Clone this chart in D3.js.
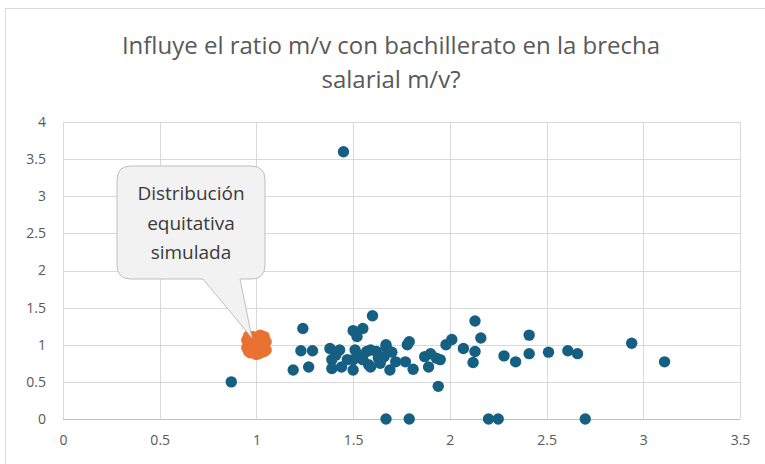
<!DOCTYPE html>
<html>
<head>
<meta charset="utf-8">
<script src="https://cdn.jsdelivr.net/npm/d3@7"></script>
<style>
  html, body { margin: 0; padding: 0; background: #ffffff; }
  svg { display: block; }
</style>
</head>
<body>
<svg id="chart" width="765" height="464"></svg>
<script>
// Observed ratios: x = ratio m/v con bachillerato, y = brecha salarial m/v
const observedX = [0.87,1.19,1.23,1.24,1.27,1.29,1.38,1.39,1.39,1.43,1.44,1.45,1.47,1.50,1.51,1.50,1.50,1.52,1.55,1.55,
  1.57,1.59,1.59,1.60,1.62,1.58,1.64,1.66,1.67,1.67,1.69,1.72,1.77,1.78,1.79,1.81,1.87,1.89,1.90,1.93,
  1.94,1.95,1.98,2.01,2.07,2.12,2.13,2.13,2.16,2.28,2.34,2.41,2.41,2.51,2.61,2.66,2.94,3.11,1.67,1.79,
  2.20,2.25,2.70,1.41,1.53,1.63,1.70];
const observedY = [0.50,0.66,0.92,1.22,0.70,0.92,0.95,0.80,0.68,0.93,0.70,3.60,0.80,1.19,0.93,0.80,0.66,1.11,1.22,0.80,
  0.91,0.93,0.70,1.39,0.91,0.73,0.75,0.84,0.97,1.00,0.66,0.77,0.77,1.00,1.04,0.67,0.84,0.70,0.88,0.82,
  0.44,0.80,1.00,1.07,0.95,0.76,1.32,0.91,1.09,0.85,0.77,1.13,0.88,0.90,0.92,0.88,1.02,0.77,0,0,
  0,0,0,0.86,0.86,0.82,0.90];

// Simulated equitable distribution, clustered around (1, 1)
const simulatedX = [0.96,0.98,1.00,1.02,1.04,0.95,0.97,0.99,1.01,1.03,1.05,0.96,0.98,1.00,1.02,1.04,0.95,0.97,0.99,1.01,
  1.03,1.05,0.96,0.98,1.00,1.02,1.04,0.97,0.99,1.01,1.03,0.98,1.00,1.02,1.01,0.97];
const simulatedY = [1.12,1.11,1.10,1.13,1.11,1.06,1.07,1.05,1.06,1.08,1.04,1.01,1.00,1.02,0.99,1.01,0.96,0.95,0.97,0.94,
  0.96,0.93,0.91,0.90,0.92,0.89,0.91,1.03,0.98,1.04,1.00,0.93,0.87,0.95,0.88,0.89];

const xTicks = [0, 0.5, 1, 1.5, 2, 2.5, 3, 3.5];
const yTicks = [0, 0.5, 1, 1.5, 2, 2.5, 3, 3.5, 4];

const titleLines = ["Influye el ratio m/v con bachillerato en la brecha", "salarial m/v?"];
const calloutLines = ["Distribución", "equitativa", "simulada"];
const calloutTarget = [0.977, 1.09];

const svg = d3.select("#chart");
const FONT = "'Open Sans', 'Noto Sans', sans-serif";

// Chart frame
svg.append("rect")
  .attr("x", 5.5).attr("y", 8.5)
  .attr("width", 800).attr("height", 500)
  .attr("fill", "#ffffff")
  .attr("stroke", "#d9d9d9").attr("stroke-width", 1);

const plot = { left: 63, right: 740, top: 122, bottom: 419 };

const x = d3.scaleLinear().domain([0, 3.5]).range([plot.left, plot.right]);
const y = d3.scaleLinear().domain([0, 4]).range([plot.bottom, plot.top]);

// Gridlines and tick labels
const gx = svg.append("g").attr("transform", `translate(0,${plot.bottom})`)
  .call(d3.axisBottom(x).tickValues(xTicks).tickSize(-(plot.bottom - plot.top)).tickFormat(d => d));
gx.select(".domain").remove();
gx.selectAll("line").attr("stroke", "#d9d9d9").attr("shape-rendering", "crispEdges");
gx.selectAll("text").attr("dy", null).attr("y", 26)
  .attr("fill", "#595959").attr("font-size", 14).attr("font-family", FONT);

const gy = svg.append("g").attr("transform", `translate(${plot.left},0)`)
  .call(d3.axisLeft(y).tickValues(yTicks).tickSize(-(plot.right - plot.left)).tickFormat(d => d));
gy.select(".domain").remove();
gy.selectAll("line").attr("stroke", "#d9d9d9").attr("shape-rendering", "crispEdges");
gy.selectAll("text").attr("x", -17)
  .attr("fill", "#595959").attr("font-size", 14).attr("font-family", FONT);

// Horizontal axis line
svg.append("line")
  .attr("x1", plot.left).attr("x2", plot.right)
  .attr("y1", y(0)).attr("y2", y(0))
  .attr("stroke", "#bfbfbf").attr("shape-rendering", "crispEdges");

// Observed points
const observed = observedX.map((v, i) => [v, observedY[i]]);
svg.append("g").selectAll("circle").data(observed).join("circle")
  .attr("cx", d => x(d[0])).attr("cy", d => y(d[1]))
  .attr("r", 5.7).attr("fill", "#156082");

// Simulated points
const simulated = simulatedX.map((v, i) => [v, simulatedY[i]]);
svg.append("g").selectAll("circle").data(simulated).join("circle")
  .attr("cx", d => x(d[0])).attr("cy", d => y(d[1]))
  .attr("r", 5.7).attr("fill", "#e97132");

// Title
svg.append("text")
  .attr("y", 54)
  .attr("text-anchor", "middle")
  .attr("fill", "#595959").attr("font-size", 24).attr("font-family", FONT)
  .selectAll("tspan").data(titleLines).join("tspan")
  .attr("x", 391).attr("dy", (d, i) => i === 0 ? 0 : 34)
  .text(d => d);

// Callout bubble with pointer
const bx0 = 117, bx1 = 265, by0 = 166, by1 = 279, r = 14;
const tipX = x(calloutTarget[0]), tipY = y(calloutTarget[1]);
const p = d3.path();
p.moveTo(bx0 + r, by0);
p.lineTo(bx1 - r, by0);
p.quadraticCurveTo(bx1, by0, bx1, by0 + r);
p.lineTo(bx1, by1 - r);
p.quadraticCurveTo(bx1, by1, bx1 - r, by1);
p.lineTo(240, by1);
p.lineTo(tipX, tipY);
p.lineTo(203, by1);
p.lineTo(bx0 + r, by1);
p.quadraticCurveTo(bx0, by1, bx0, by1 - r);
p.lineTo(bx0, by0 + r);
p.quadraticCurveTo(bx0, by0, bx0 + r, by0);
p.closePath();
svg.append("path").attr("d", p.toString())
  .attr("fill", "#f2f2f2").attr("stroke", "#bfbfbf").attr("stroke-width", 1);

svg.append("text")
  .attr("text-anchor", "middle")
  .attr("fill", "#3a3a3a").attr("font-size", 19).attr("font-family", FONT)
  .selectAll("tspan").data(calloutLines).join("tspan")
  .attr("x", 191).attr("y", (d, i) => 200 + i * 29.5)
  .text(d => d);
</script>
</body>
</html>
